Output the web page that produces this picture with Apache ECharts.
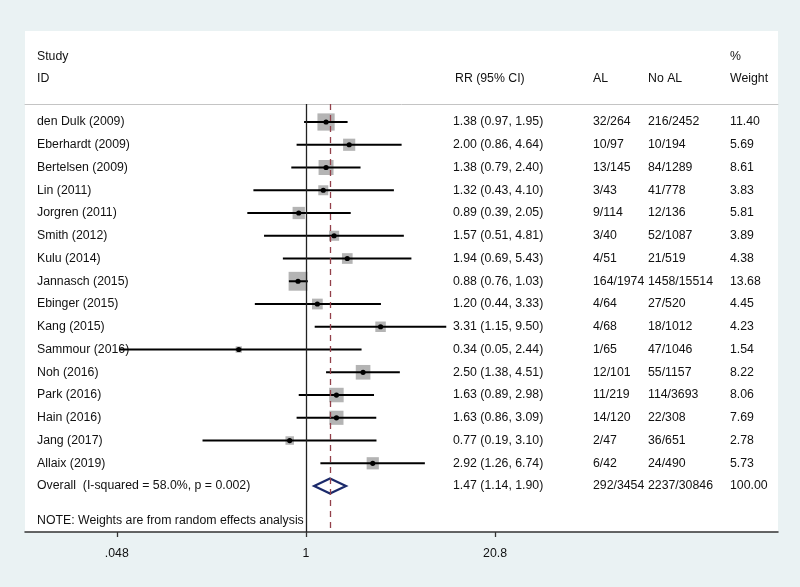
<!DOCTYPE html>
<html><head><meta charset="utf-8">
<script src="https://cdn.jsdelivr.net/npm/echarts@6/dist/echarts.min.js"></script>
<style>html,body{margin:0;padding:0;background:#eaf2f3}#c{width:800px;height:587px}</style>
</head><body><div id="c"></div>
<script>
// ---- data ----
const studies = ["den Dulk (2009)","Eberhardt (2009)","Bertelsen (2009)","Lin (2011)","Jorgren (2011)","Smith (2012)","Kulu (2014)","Jannasch (2015)","Ebinger (2015)","Kang (2015)","Sammour (2016)","Noh (2016)","Park (2016)","Hain (2016)","Jang (2017)","Allaix (2019)"];
const rr     = [1.38,2.00,1.38,1.32,0.89,1.57,1.94,0.88,1.20,3.31,0.34,2.50,1.63,1.63,0.77,2.92];
const ciLow  = [0.97,0.86,0.79,0.43,0.39,0.51,0.69,0.76,0.44,1.15,0.05,1.38,0.89,0.86,0.19,1.26];
const ciHigh = [1.95,4.64,2.40,4.10,2.05,4.81,5.43,1.03,3.33,9.50,2.44,4.51,2.98,3.09,3.10,6.74];
const alEvents   = ["32/264","10/97","13/145","3/43","9/114","3/40","4/51","164/1974","4/64","4/68","1/65","12/101","11/219","14/120","2/47","6/42"];
const noAlEvents = ["216/2452","10/194","84/1289","41/778","12/136","52/1087","21/519","1458/15514","27/520","18/1012","47/1046","55/1157","114/3693","22/308","36/651","24/490"];
const weights = [11.40,5.69,8.61,3.83,5.81,3.89,4.38,13.68,4.45,4.23,1.54,8.22,8.06,7.69,2.78,5.73];
const overallLabel = "Overall  (I-squared = 58.0%, p = 0.002)";
const overallRR = 1.47, overallLow = 1.14, overallHigh = 1.90;
const overallAL = "292/3454", overallNoAL = "2237/30846", overallWeight = 100.00;
const noteText = "NOTE: Weights are from random effects analysis";
const tickValues = [0.048, 1, 20.8];
const tickLabels = [".048", "1", "20.8"];
const headers = {study:"Study", id:"ID", rr:"RR (95% CI)", al:"AL", noAl:"No AL", pct:"%", weight:"Weight"};

// ---- layout ----
const FONT = "'Liberation Sans', Arial, sans-serif";
const FS = 12.3;
const TXT = '#111';
const xMin = -4.51, xMax = 7.576;      // ln(RR) extent of plot panel
const yMin = 0.209, yMax = 19.02;      // row extent
const overallRow = studies.length + 1;
const noteRow = overallRow + 1.5;
const studyRows = studies.map((_, i) => i + 1);
const f2 = v => v.toFixed(2);
const rrText = rr.map((v, i) => `${f2(v)} (${f2(ciLow[i])}, ${f2(ciHigh[i])})`);
const overallRRText = `${f2(overallRR)} (${f2(overallLow)}, ${f2(overallHigh)})`;

function lookup(rows, texts) {
  return v => { for (let i = 0; i < rows.length; i++) if (Math.abs(rows[i] - v) < 1e-6) return texts[i]; return ''; };
}
const allRows = studyRows.concat([overallRow]);
function colAxis(margin, rows, texts) {
  return {
    type: 'value', gridIndex: 1, inverse: true, min: yMin, max: yMax, position: 'left',
    axisLine: {show: false, onZero: false}, axisTick: {show: false}, splitLine: {show: false},
    axisLabel: {inside: true, margin: margin, customValues: rows, formatter: lookup(rows, texts),
      color: TXT, fontSize: FS, fontFamily: FONT, align: 'left'}
  };
}
const tickLn = tickValues.map(Math.log);

function title(text, left, top) {
  return {text, left, top, padding: 0, textStyle: {fontSize: FS, fontWeight: 'normal', color: TXT, fontFamily: FONT}};
}

const option = {
  backgroundColor: '#eaf2f3',
  animation: false,
  title: [
    title(headers.study, 37, 51), title(headers.id, 37, 73),
    title(headers.rr, 455, 73), title(headers.al, 593, 73), title(headers.noAl, 648, 73),
    title(headers.pct, 730, 51), title(headers.weight, 730, 73)
  ],
  grid: [
    {left: 25, right: 22, top: 31, bottom: 55, show: true, backgroundColor: '#ffffff', borderWidth: 0},
    {left: 25, right: 22, top: 104, bottom: 55, show: false}
  ],
  xAxis: [
    {type: 'value', gridIndex: 1, min: xMin, max: xMax, position: 'bottom',
     axisLine: {onZero: false, lineStyle: {color: '#333', width: 1.5}},
     axisTick: {customValues: tickLn, length: 5, lineStyle: {color: '#333', width: 1.3}},
     axisLabel: {customValues: tickLn, margin: 16, formatter: lookup(tickLn, tickLabels), color: TXT, fontSize: FS, fontFamily: FONT},
     splitLine: {show: false}},
    {type: 'value', gridIndex: 1, min: xMin, max: xMax, position: 'top',
     axisLine: {onZero: false, lineStyle: {color: '#c4c4c4', width: 1}},
     axisTick: {show: false}, axisLabel: {show: false}, splitLine: {show: false}}
  ],
  yAxis: [
    colAxis(12, allRows.concat([noteRow]), studies.concat([overallLabel, noteText])),
    colAxis(428, allRows, rrText.concat([overallRRText])),
    colAxis(568, allRows, alEvents.concat([overallAL])),
    colAxis(623, allRows, noAlEvents.concat([overallNoAL])),
    colAxis(705, allRows, weights.map(f2).concat([f2(overallWeight)]))
  ],
  series: [
    {
      type: 'custom', xAxisIndex: 0, yAxisIndex: 0, silent: true,
      encode: {x: [0, 2, 3], y: 1},
      data: studies.map((_, i) => [Math.log(rr[i]), studyRows[i], Math.log(ciLow[i]), Math.log(ciHigh[i]), weights[i]]),
      renderItem: (params, api) => {
        const y = api.value(1);
        const pc = api.coord([api.value(0), y]);
        const pl = api.coord([api.value(2), y]);
        const ph = api.coord([api.value(3), y]);
        const side = 5.1 * Math.sqrt(api.value(4));
        return {type: 'group', children: [
          {type: 'rect', shape: {x: pc[0] - side / 2, y: pc[1] - side / 2, width: side, height: side}, style: {fill: '#b4b4b4'}},
          {type: 'line', shape: {x1: pl[0], y1: pl[1], x2: ph[0], y2: ph[1]}, style: {stroke: '#000', lineWidth: 2}},
          {type: 'circle', shape: {cx: pc[0], cy: pc[1], r: 2.6}, style: {fill: '#000'}}
        ]};
      }
    },
    {
      type: 'custom', xAxisIndex: 0, yAxisIndex: 0, silent: true, z: 3,
      encode: {x: [0, 2, 3], y: 1},
      data: [[Math.log(overallRR), overallRow, Math.log(overallLow), Math.log(overallHigh)]],
      renderItem: (params, api) => {
        const y = api.value(1);
        const pc = api.coord([api.value(0), y]);
        const pl = api.coord([api.value(2), y]);
        const ph = api.coord([api.value(3), y]);
        const h = 7.5;
        return {type: 'polygon', shape: {points: [[pl[0], pl[1]], [pc[0], pc[1] - h], [ph[0], ph[1]], [pc[0], pc[1] + h]]},
          style: {fill: 'transparent', stroke: '#1b2a6b', lineWidth: 2.2}};
      },
      markLine: {
        silent: true, symbol: 'none', label: {show: false}, animation: false,
        data: [
          {xAxis: 0, lineStyle: {color: '#222', type: 'solid', width: 1.3}},
          {xAxis: Math.log(overallRR), lineStyle: {color: '#93404a', type: [6, 5], width: 1.3}}
        ]
      }
    }
  ]
};
const chart = echarts.init(document.getElementById('c'), null, {renderer: 'canvas'});
chart.setOption(option);
</script></body></html>
